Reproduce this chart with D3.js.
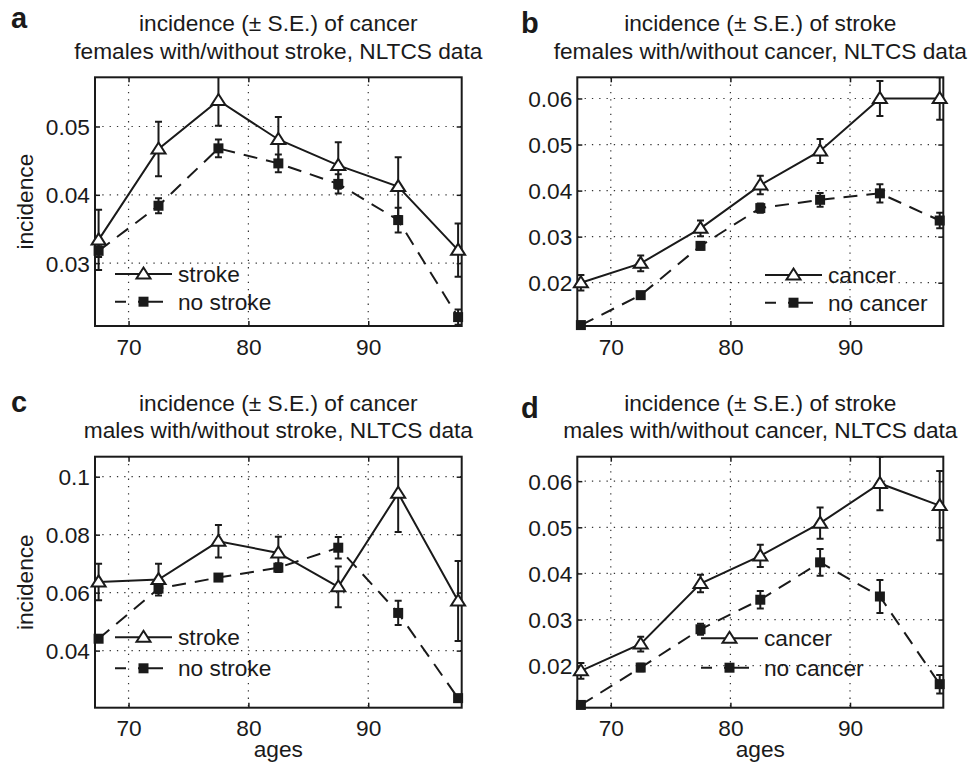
<!DOCTYPE html>
<html lang="en">
<head>
<meta charset="utf-8">
<title>NLTCS incidence</title>
<script src="https://d3js.org/d3.v7.min.js"></script>
<style>
  body { margin: 0; background: #fff; }
  svg text { font-family: "Liberation Sans", Arial, Helvetica, sans-serif; fill: #1a1a1a; }
  .grid line { stroke: #333; stroke-width: 1.2; stroke-dasharray: 1.3,6; }
  .frame { fill: none; stroke: #1a1a1a; stroke-width: 2; }
  .series { fill: none; stroke: #1a1a1a; stroke-width: 2; }
  .err { stroke: #1a1a1a; stroke-width: 2; }
</style>
</head>
<body>
<div id="chart"></div>
<script>

// ages (midpoints of 5-year groups)
var ages = [67.5, 72.5, 77.5, 82.5, 87.5, 92.5, 97.5];
var xTicks = [70, 80, 90];

// a: cancer incidence, females with / without stroke
var aStroke     = [0.0334, 0.0467, 0.0538, 0.0481, 0.0443, 0.0412, 0.0319];
var aStrokeSE   = [0.0044, 0.0040, 0.0037, 0.0033, 0.0034, 0.0043, 0.0039];
var aNoStroke   = [0.0318, 0.0384, 0.0468, 0.0446, 0.0416, 0.0363, 0.0221];
var aNoStrokeSE = [0.0009, 0.0011, 0.0013, 0.0013, 0.0014, 0.0018, 0.0011];
var aTicks = [0.03, 0.04, 0.05];

// b: stroke incidence, females with / without cancer
var bCancer     = [0.0200, 0.0242, 0.0318, 0.0412, 0.0486, 0.0600, 0.0600];
var bCancerSE   = [0.0017, 0.0017, 0.0017, 0.0020, 0.0026, 0.0038, 0.0046];
var bNoCancer   = [0.0108, 0.0173, 0.0280, 0.0362, 0.0380, 0.0394, 0.0335];
var bNoCancerSE = [0.0005, 0.0006, 0.0008, 0.0010, 0.0015, 0.0020, 0.0017];
var bTicks = [0.02, 0.03, 0.04, 0.05, 0.06];

// c: cancer incidence, males with / without stroke
var cStroke     = [0.0637, 0.0645, 0.0777, 0.0737, 0.0620, 0.0943, 0.0571];
var cStrokeSE   = [0.0063, 0.0055, 0.0056, 0.0056, 0.0070, 0.0134, 0.0138];
var cNoStroke   = [0.0441, 0.0614, 0.0652, 0.0686, 0.0755, 0.0530, 0.0236];
var cNoStrokeSE = [0.0008, 0.0015, 0.0012, 0.0015, 0.0037, 0.0042, 0.0010];
var cTicks = [0.04, 0.06, 0.08, 0.1];

// d: stroke incidence, males with / without cancer
var dCancer     = [0.0189, 0.0247, 0.0378, 0.0438, 0.0509, 0.0595, 0.0547];
var dCancerSE   = [0.0017, 0.0016, 0.0019, 0.0024, 0.0034, 0.0058, 0.0075];
var dNoCancer   = [0.0115, 0.0196, 0.0279, 0.0343, 0.0424, 0.0350, 0.0160];
var dNoCancerSE = [0.0005, 0.0008, 0.0012, 0.0019, 0.0029, 0.0036, 0.0020];
var dTicks = [0.02, 0.03, 0.04, 0.05, 0.06];

var W = 974, H = 765;
var FS = 22.7;
var svg = d3.select("#chart").append("svg")
    .attr("width", W)
    .attr("height", H);

var panels = [
  { id: "a", box: [95, 77.3, 461.7, 326], yDom: [0.0208, 0.0572], ticks: aTicks,
    title: ["incidence (\u00b1 S.E.) of cancer", "females with/without stroke, NLTCS data"],
    names: ["stroke", "no stroke"], s1: aStroke, e1: aStrokeSE, s2: aNoStroke, e2: aNoStrokeSE,
    ylab: true, xlab: false, letter: [11, 28], leg: [115, 274, 301.7] },
  { id: "b", box: [577.3, 77.3, 943.3, 326], yDom: [0.0106, 0.0646], ticks: bTicks,
    title: ["incidence (\u00b1 S.E.) of stroke", "females with/without cancer, NLTCS data"],
    names: ["cancer", "no cancer"], s1: bCancer, e1: bCancerSE, s2: bNoCancer, e2: bNoCancerSE,
    ylab: false, xlab: false, letter: [521, 33], leg: [765, 275, 302.7] },
  { id: "c", box: [95, 456.7, 461.7, 707.7], yDom: [0.0203, 0.1069], ticks: cTicks,
    title: ["incidence (\u00b1 S.E.) of cancer", "males with/without stroke, NLTCS data"],
    names: ["stroke", "no stroke"], s1: cStroke, e1: cStrokeSE, s2: cNoStroke, e2: cNoStrokeSE,
    ylab: true, xlab: true, letter: [11, 411.5], leg: [115, 637.3, 668.3] },
  { id: "d", box: [577.3, 456.7, 943.3, 707.7], yDom: [0.0109, 0.0653], ticks: dTicks,
    title: ["incidence (\u00b1 S.E.) of stroke", "males with/without cancer, NLTCS data"],
    names: ["cancer", "no cancer"], s1: dCancer, e1: dCancerSE, s2: dNoCancer, e2: dNoCancerSE,
    ylab: false, xlab: true, letter: [521, 418], leg: [701, 638.3, 667.7] }
];

var triPath = "M0,-6.5L7,4.5L-7,4.5Z";

panels.forEach(drawPanel);

function drawPanel(p) {
  var x0 = p.box[0], y0 = p.box[1], x1 = p.box[2], y1 = p.box[3];
  var x = d3.scaleLinear().domain([67.2, 97.8]).range([x0, x1]);
  var y = d3.scaleLinear().domain(p.yDom).range([y1, y0]);
  var g = svg.append("g");

  g.append("clipPath").attr("id", "clip-" + p.id)
    .append("rect").attr("x", x0).attr("y", y0).attr("width", x1 - x0).attr("height", y1 - y0);

  // dotted grid
  var grid = g.append("g").attr("class", "grid");
  grid.selectAll(".gx").data(xTicks).enter().append("line")
      .attr("x1", function(d) { return x(d); }).attr("x2", function(d) { return x(d); })
      .attr("y1", y0).attr("y2", y1);
  grid.selectAll(".gy").data(p.ticks).enter().append("line")
      .attr("y1", function(d) { return y(d); }).attr("y2", function(d) { return y(d); })
      .attr("x1", x0).attr("x2", x1);

  // axes: ticks inside, labels outside
  var ax = g.append("g").attr("transform", "translate(0," + y1 + ")")
      .call(d3.axisBottom(x).tickValues(xTicks).tickSizeInner(-5).tickSizeOuter(0).tickPadding(10));
  var axT = g.append("g").attr("transform", "translate(0," + y0 + ")")
      .call(d3.axisTop(x).tickValues(xTicks).tickSizeInner(-5).tickSizeOuter(0).tickFormat(""));
  var ay = g.append("g").attr("transform", "translate(" + x0 + ",0)")
      .call(d3.axisLeft(y).tickValues(p.ticks).tickSizeInner(-5).tickSizeOuter(0).tickPadding(10)
        .tickFormat(function(d) { return String(+d.toFixed(3)); }));
  var ayR = g.append("g").attr("transform", "translate(" + x1 + ",0)")
      .call(d3.axisRight(y).tickValues(p.ticks).tickSizeInner(-5).tickSizeOuter(0).tickFormat(""));
  [ax, axT, ay, ayR].forEach(function(a) {
    a.select(".domain").remove();
    a.selectAll("line").attr("stroke", "#1a1a1a").attr("stroke-width", 1.5);
    a.selectAll("text").attr("font-size", FS).attr("fill", "#1a1a1a")
      .attr("font-family", "Liberation Sans, Arial, sans-serif");
  });
  ax.selectAll("text").attr("dy", null).attr("y", 28.5);
  ay.selectAll("text").attr("x", -5).attr("dy", "0.35em");

  g.append("rect").attr("class", "frame")
    .attr("x", x0).attr("y", y0).attr("width", x1 - x0).attr("height", y1 - y0);

  var plot = g.append("g").attr("clip-path", "url(#clip-" + p.id + ")");
  var series = [
    { v: p.s1, e: p.e1, dash: null },
    { v: p.s2, e: p.e2, dash: "14,9" }
  ];
  var line = d3.line()
      .x(function(d, i) { return x(ages[i]); })
      .y(function(d) { return y(d); });

  series.forEach(function(s) {
    plot.append("path").attr("class", "series")
      .attr("d", line(s.v))
      .attr("stroke-dasharray", s.dash);
    var eb = plot.append("g").selectAll("g").data(s.v).enter().append("g").attr("class", "err");
    eb.append("line")
      .attr("x1", function(d, i) { return x(ages[i]); }).attr("x2", function(d, i) { return x(ages[i]); })
      .attr("y1", function(d, i) { return y(d - s.e[i]); }).attr("y2", function(d, i) { return y(d + s.e[i]); });
    [-1, 1].forEach(function(sign) {
      eb.append("line")
        .attr("x1", function(d, i) { return x(ages[i]) - 3.5; }).attr("x2", function(d, i) { return x(ages[i]) + 3.5; })
        .attr("y1", function(d, i) { return y(d + sign * s.e[i]); }).attr("y2", function(d, i) { return y(d + sign * s.e[i]); });
    });
  });

  // markers (not clipped)
  g.append("g").selectAll("path").data(p.s1).enter().append("path")
    .attr("d", triPath)
    .attr("transform", function(d, i) { return "translate(" + x(ages[i]) + "," + y(d) + ")"; })
    .attr("fill", "#fff").attr("stroke", "#1a1a1a").attr("stroke-width", 2);
  g.append("g").selectAll("rect").data(p.s2).enter().append("rect")
    .attr("x", function(d, i) { return x(ages[i]) - 5; })
    .attr("y", function(d) { return y(d) - 5; })
    .attr("width", 10).attr("height", 10)
    .attr("fill", "#1a1a1a");

  // legend (no box)
  var lx = p.leg[0], lw = 57;
  var leg = g.append("g");
  leg.append("line").attr("x1", lx).attr("x2", lx + lw).attr("y1", p.leg[1]).attr("y2", p.leg[1])
    .attr("stroke", "#1a1a1a").attr("stroke-width", 2);
  leg.append("path").attr("d", triPath)
    .attr("transform", "translate(" + (lx + lw / 2) + "," + p.leg[1] + ")")
    .attr("fill", "#fff").attr("stroke", "#1a1a1a").attr("stroke-width", 2);
  leg.append("line").attr("x1", lx).attr("x2", lx + 48).attr("y1", p.leg[2]).attr("y2", p.leg[2])
    .attr("stroke", "#1a1a1a").attr("stroke-width", 2).attr("stroke-dasharray", "11,12,25");
  leg.append("rect").attr("x", lx + lw / 2 - 5).attr("y", p.leg[2] - 5)
    .attr("width", 10).attr("height", 10).attr("fill", "#1a1a1a");
  leg.selectAll("text").data(p.names).enter().append("text")
    .attr("x", lx + lw + 6)
    .attr("y", function(d, i) { return p.leg[i + 1]; })
    .attr("dy", "0.35em")
    .attr("font-size", FS)
    .text(function(d) { return d; });

  // titles
  var cx = (x0 + x1) / 2;
  g.append("text").attr("x", cx).attr("y", y0 - 46).attr("text-anchor", "middle")
    .attr("font-size", FS).text(p.title[0]);
  g.append("text").attr("x", cx).attr("y", y0 - 18.5).attr("text-anchor", "middle")
    .attr("font-size", FS).text(p.title[1]);

  g.append("text").attr("x", p.letter[0]).attr("y", p.letter[1])
    .attr("font-size", 29).attr("font-weight", "bold").text(p.id);

  if (p.ylab) {
    g.append("text")
      .attr("transform", "translate(33," + ((y0 + y1) / 2) + ") rotate(-90)")
      .attr("text-anchor", "middle").attr("font-size", FS).text("incidence");
  }
  if (p.xlab) {
    g.append("text").attr("x", cx).attr("y", 757).attr("text-anchor", "middle")
      .attr("font-size", FS).text("ages");
  }
}

</script>
</body>
</html>
